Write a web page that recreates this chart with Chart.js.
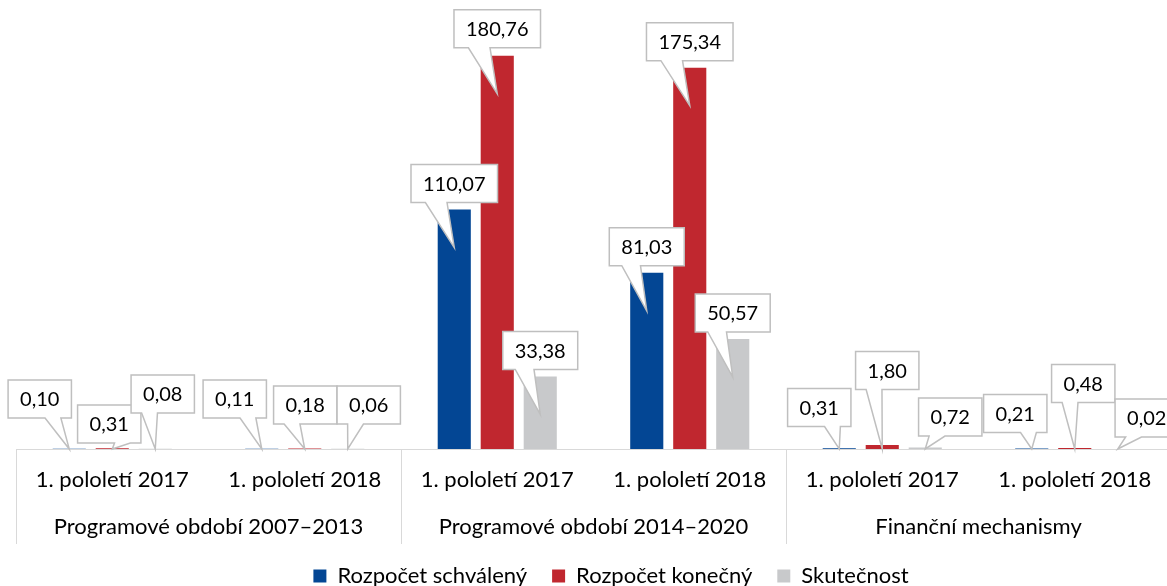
<!DOCTYPE html>
<html>
<head>
<meta charset="utf-8">
<script src="https://cdn.jsdelivr.net/npm/chart.js@4.4.0/dist/chart.umd.min.js"></script>
<style>
  html, body { margin: 0; padding: 0; overflow: hidden; background: #fff; }
</style>
</head>
<body>
<canvas id="chart" width="1206" height="597"></canvas>
<script>
const categories = ['1. pololetí 2017', '1. pololetí 2018', '1. pololetí 2017', '1. pololetí 2018', '1. pololetí 2017', '1. pololetí 2018'];
const groups = ['Programové období 2007–2013', 'Programové období 2014–2020', 'Finanční mechanismy'];
const seriesNames = ['Rozpočet schválený', 'Rozpočet konečný', 'Skutečnost'];
const schvaleny = [0.10, 0.11, 110.07, 81.03, 0.31, 0.21];
const konecny = [0.31, 0.18, 180.76, 175.34, 1.80, 0.48];
const skutecnost = [0.08, 0.06, 33.38, 50.57, 0.72, 0.02];
const colors = ['#034694', '#C0272F', '#C8C9CB'];

// where each callout box sits, relative to the tip of its tail
const calloutOffsets = [
    [[-29.5, -50], [-27, -50], [0, -64], [0, -64], [-20, -41.5], [-16.5, -35.5]],
    [[-3, -25], [0.5, -44], [0, -65], [0, -64], [5, -78.5], [8.5, -65.5]],
    [[7.5, -55], [21, -44], [0, -64], [0, -64], [25, -32], [29, -31]]
];

const FONT = 'Lato, "Open Sans", sans-serif';

function wedge(ctx, l, t, w, h, px, py) {
    const r = l + w, b = t + h;
    const dx = px - (l + w / 2), dy = py - (t + h / 2);
    const dz = Math.abs(dy) - Math.abs(dx * h / w);
    const x1 = l + w * (dx > 0 ? 7 : 2) / 12, x2 = l + w * (dx > 0 ? 10 : 5) / 12;
    const y1 = t + h * (dy > 0 ? 7 : 2) / 12, y2 = t + h * (dy > 0 ? 10 : 5) / 12;
    ctx.beginPath();
    ctx.moveTo(l, t);
    if (dz > 0 && dy < 0) { ctx.lineTo(x1, t); ctx.lineTo(px, py); ctx.lineTo(x2, t); }
    ctx.lineTo(r, t);
    if (dz <= 0 && dx > 0) { ctx.lineTo(r, y1); ctx.lineTo(px, py); ctx.lineTo(r, y2); }
    ctx.lineTo(r, b);
    if (dz > 0 && dy > 0) { ctx.lineTo(x2, b); ctx.lineTo(px, py); ctx.lineTo(x1, b); }
    ctx.lineTo(l, b);
    if (dz <= 0 && dx <= 0) { ctx.lineTo(l, y2); ctx.lineTo(px, py); ctx.lineTo(l, y1); }
    ctx.closePath();
    ctx.fillStyle = '#fff';
    ctx.fill();
    ctx.strokeStyle = '#BFBFBF';
    ctx.lineWidth = 1.5;
    ctx.stroke();
}

const callouts = {
    id: 'callouts',
    afterDatasetsDraw(chart) {
        const ctx = chart.ctx;
        ctx.save();
        ctx.font = '20px ' + FONT;
        ctx.textAlign = 'center';
        ctx.textBaseline = 'middle';
        chart.data.datasets.forEach((ds, di) => {
            chart.getDatasetMeta(di).data.forEach((bar, i) => {
                const tx = bar.x;
                const ty = Math.min(bar.y + 38, bar.base);
                const [ox, oy] = calloutOffsets[di][i];
                const text = ds.data[i].toFixed(2).replace('.', ',');
                const w = ctx.measureText(text).width + 24, h = 38;
                const cx = tx + ox, cy = ty + oy;
                wedge(ctx, cx - w / 2, cy - h / 2, w, h, tx, ty);
                ctx.fillStyle = '#000';
                ctx.fillText(text, cx, cy + 1);
            });
        });
        ctx.restore();
    }
};

const separators = {
    id: 'separators',
    afterDraw(chart) {
        const ctx = chart.ctx;
        const x = chart.scales.x;
        const step = x.getPixelForValue(1) - x.getPixelForValue(0);
        const perGroup = categories.length / groups.length;
        ctx.save();
        ctx.strokeStyle = '#D9D9D9';
        ctx.lineWidth = 1;
        for (let g = 0; g <= groups.length; g++) {
            const px = Math.round(x.getPixelForValue(g * perGroup) - step / 2) + 0.5;
            ctx.beginPath();
            ctx.moveTo(px, x.top);
            ctx.lineTo(px, x.top + 95);
            ctx.stroke();
        }
        ctx.restore();
    }
};

new Chart(document.getElementById('chart'), {
    type: 'bar',
    data: {
        labels: categories,
        datasets: [schvaleny, konecny, skutecnost].map((d, i) => ({
            label: seriesNames[i],
            data: d,
            backgroundColor: colors[i],
            borderWidth: 0,
            barPercentage: 0.77,
            categoryPercentage: 0.67
        }))
    },
    options: {
        responsive: false,
        animation: false,
        layout: { padding: { top: 14, left: 16, right: 0, bottom: 0 } },
        scales: {
            y: { display: false, min: 0, max: 200 },
            y2: {
                position: 'right',
                grid: { display: false },
                ticks: { display: false },
                border: { display: false },
                afterFit: (s) => { s.width = 35; }
            },
            x: {
                grid: { display: false, drawTicks: false },
                border: { display: true, color: '#D9D9D9', width: 1 },
                ticks: { font: { family: FONT, size: 22 }, color: '#000', padding: 18, maxRotation: 0, autoSkip: false },
                afterFit: (s) => { s.height = 44; }
            },
            x2: {
                type: 'category',
                labels: groups,
                position: 'bottom',
                weight: 1,
                offset: true,
                grid: { display: false, drawTicks: false },
                border: { display: false },
                ticks: { font: { family: FONT, size: 22 }, color: '#000', padding: 21, maxRotation: 0, autoSkip: false },
                afterFit: (s) => { s.height = 47; }
            }
        },
        plugins: {
            legend: {
                position: 'bottom',
                labels: {
                    boxWidth: 13,
                    boxHeight: 13,
                    padding: 25,
                    color: '#000',
                    font: { family: FONT, size: 22 }
                }
            },
            tooltip: { enabled: false }
        }
    },
    plugins: [callouts, separators]
});
</script>
</body>
</html>
